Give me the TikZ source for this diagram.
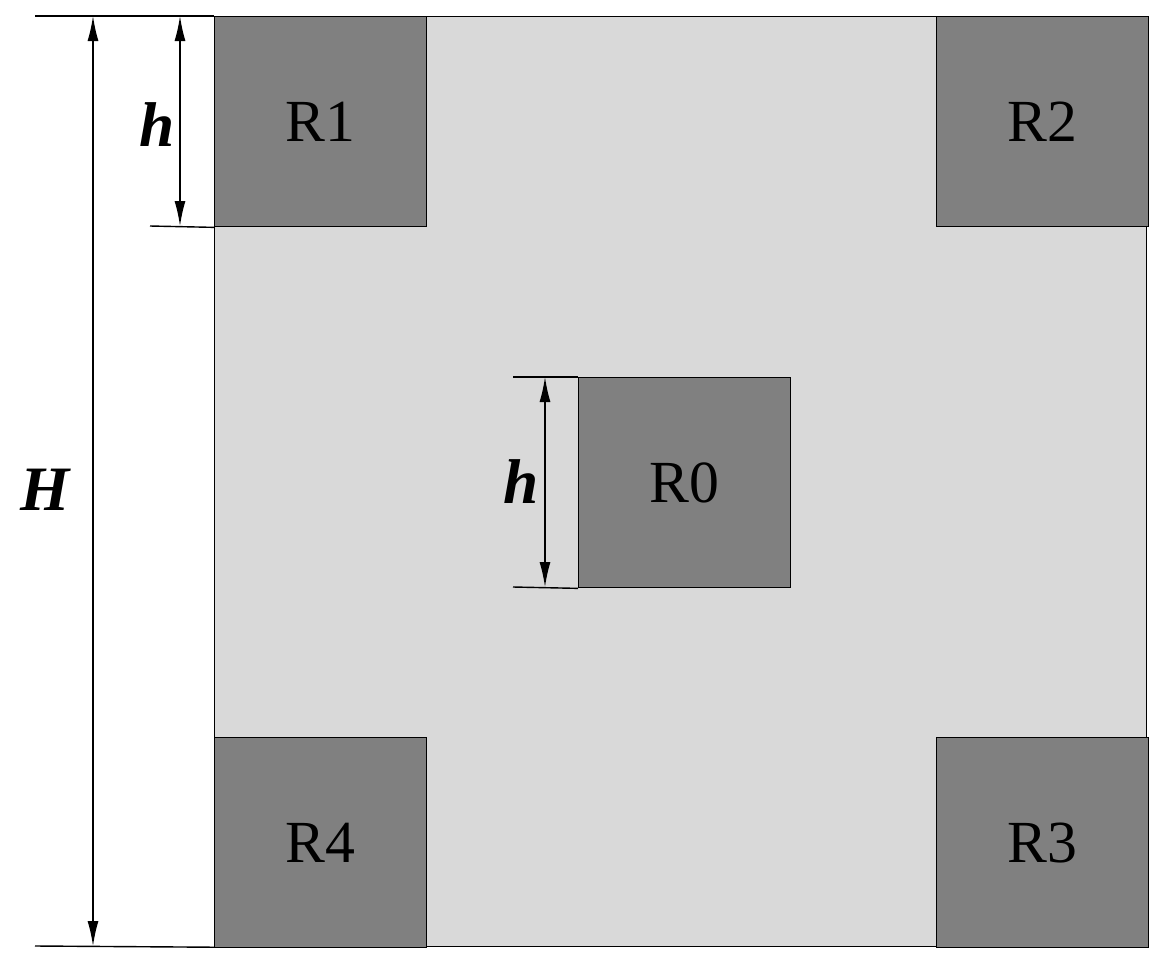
\documentclass[tikz,border=0pt]{standalone}
\usepackage{fontspec}
\setmainfont{Liberation Serif}
\usetikzlibrary{arrows.meta,positioning,calc}
\colorlet{MyHall}{black!15}
\colorlet{MyRoom}{black!50}
\tikzset{
    >=latex
}

\begin{document}
\begin{tikzpicture}[
    x=0.02cm,y=-0.02cm,
    room/.style={draw,thick,fill=MyRoom,minimum width=4.24cm,minimum height=4.2cm,inner sep=0pt,anchor=north west,font=\fontsize{34}{36}\selectfont},
    dim/.style={<->,>={Latex[length=5mm,width=2.2mm]},thick},
    ext/.style={thick},
    lbl/.style={font=\fontsize{36}{38}\selectfont\bfseries\itshape}
    ]
    \useasboundingbox (0,0) rectangle (1161,971);
    \node[draw,thick,fill=MyHall,minimum width=18.64cm,minimum height=18.6cm,inner sep=0pt,anchor=north west] (hall) at (214,16) {};

    \node[room] (r1) at (214,16) {R1};
    \node[room] (r2) at (936,16) {R2};
    \node[room] (r4) at (214,737) {R4};
    \node[room] (r3) at (936,737) {R3};
    \node[room] (r0) at (578,377) {R0};

    % H
    \coordinate (Ht) at (35,16);
    \coordinate (Hb) at (35,946);
    \draw[ext] (Ht) -- (hall.north west);
    \draw[ext] (Hb) -- (hall.south west);
    \draw[dim] (93,16) -- (93,946);
    \node[lbl] (H) at (45,490) {H};

    % h of R1
    \coordinate (h1) at (150,226);
    \draw[ext] (h1) -- (r1.south west);
    \draw[dim] (180,16) -- (180,226);
    \node[lbl] (hA) at (157,125) {h};

    % h of R0
    \coordinate (h2t) at (513,377);
    \coordinate (h2b) at (513,587);
    \draw[ext] (h2t) -- (r0.north west);
    \draw[ext] (h2b) -- (r0.south west);
    \draw[dim] (545,377) -- (545,587);
    \node[lbl] (hB) at (521,482) {h};
\end{tikzpicture}
\end{document}
